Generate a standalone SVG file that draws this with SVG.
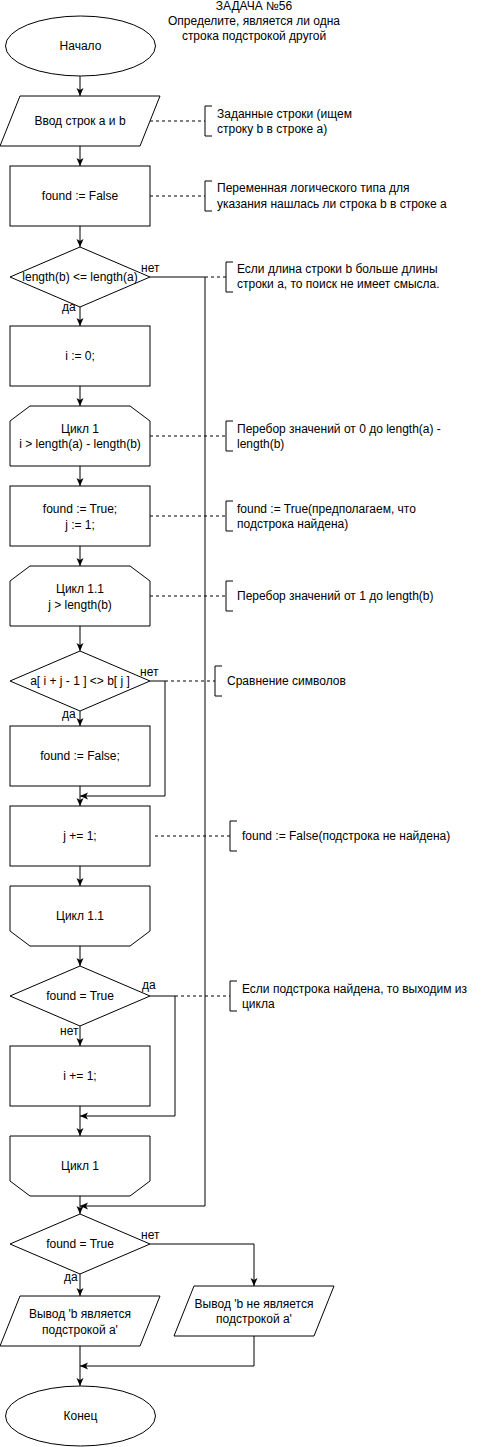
<svg xmlns="http://www.w3.org/2000/svg" width="481" height="1447" viewBox="0 0 481 1447">
<style>
.n{fill:#fff;stroke:#000;stroke-width:1}
.t{font-family:"Liberation Sans",Arial,sans-serif;font-size:12px;fill:#000;text-anchor:middle}
.a{font-family:"Liberation Sans",Arial,sans-serif;font-size:12px;fill:#000}
.c{fill:none;stroke:#000;stroke-width:1}
.d{fill:none;stroke:#000;stroke-width:1;stroke-dasharray:3 3}
.b{fill:none;stroke:#000;stroke-width:1}
</style>
<defs>
<marker id="ar" viewBox="0 0 8 8" refX="8" refY="4" markerWidth="8" markerHeight="8" markerUnits="userSpaceOnUse" orient="auto">
<path d="M0,0.5 L8,4 L0,7.5 L2,4 Z" fill="#000"/>
</marker>
</defs>
<rect width="481" height="1447" fill="#fff"/>
<g id="title">
<text class="t" x="254" y="10">ЗАДАЧА №56</text>
<text class="t" x="254" y="25">Определите, является ли одна</text>
<text class="t" x="254" y="40">строка подстрокой другой</text>
</g>
<g id="connectors">
<path class="c" marker-end="url(#ar)" d="M80,76 V96"/>
<path class="c" marker-end="url(#ar)" d="M80,146 V166"/>
<path class="c" marker-end="url(#ar)" d="M80,226 V247"/>
<path class="c" marker-end="url(#ar)" d="M80,307 V326"/>
<path class="c" marker-end="url(#ar)" d="M80,386 V406"/>
<path class="c" marker-end="url(#ar)" d="M80,466 V486"/>
<path class="c" marker-end="url(#ar)" d="M80,546 V566"/>
<path class="c" marker-end="url(#ar)" d="M80,626 V651"/>
<path class="c" marker-end="url(#ar)" d="M80,711 V726"/>
<path class="c" marker-end="url(#ar)" d="M80,786 V806"/>
<path class="c" marker-end="url(#ar)" d="M150,681 H165 V796 H80"/>
<path class="c" marker-end="url(#ar)" d="M80,866 V886"/>
<path class="c" marker-end="url(#ar)" d="M80,946 V966"/>
<path class="c" marker-end="url(#ar)" d="M80,1026 V1046"/>
<path class="c" marker-end="url(#ar)" d="M150,996 H175 V1116 H80"/>
<path class="c" marker-end="url(#ar)" d="M80,1106 V1136"/>
<path class="c" marker-end="url(#ar)" d="M80,1196 V1214"/>
<path class="c" marker-end="url(#ar)" d="M150,277 H205 V1206 H80"/>
<path class="c" marker-end="url(#ar)" d="M150,1244 H254 V1286"/>
<path class="c" marker-end="url(#ar)" d="M80,1274 V1296"/>
<path class="c" marker-end="url(#ar)" d="M254,1336 V1366 H80"/>
<path class="c" marker-end="url(#ar)" d="M80,1346 V1386"/>
<path class="d" d="M150,121 H205"/>
<path class="d" d="M150,196 H205"/>
<path class="d" d="M205,277 H226"/>
<path class="d" d="M150,436 H226"/>
<path class="d" d="M150,516 H226"/>
<path class="d" d="M150,596 H226"/>
<path class="d" d="M165,681 H215"/>
<path class="d" d="M155,836 H230"/>
<path class="d" d="M175,996 H230"/>
<text class="a" x="141" y="272">нет</text>
<text class="a" x="62" y="311">да</text>
<text class="a" x="140" y="676">нет</text>
<text class="a" x="62" y="718">да</text>
<text class="a" x="142" y="989">да</text>
<text class="a" x="60" y="1035">нет</text>
<text class="a" x="141" y="1239">нет</text>
<text class="a" x="64" y="1281">да</text>
</g>
<g id="start"><ellipse class="n" cx="80.5" cy="46" rx="75" ry="30"/><text class="t" x="80.5" y="50">Начало</text></g>
<g id="input"><polygon class="n" points="20,96 160,96 140,146 0,146"/><text class="t" x="80" y="125">Ввод строк а и b</text></g>
<g id="init-found"><rect class="n" x="10" y="166" width="140" height="60"/><text class="t" x="80" y="200">found := False</text></g>
<g id="check-length"><polygon class="n" points="80,247 150,277 80,307 10,277"/><text class="t" x="80" y="281">length(b) &lt;= length(a)</text></g>
<g id="init-i"><rect class="n" x="10" y="326" width="140" height="60"/><text class="t" x="80" y="360">i := 0;</text></g>
<g id="loop1-start"><polygon class="n" points="30,406 130,406 150,421 150,466 10,466 10,421"/><text class="t" x="80" y="433">Цикл 1</text><text class="t" x="80" y="448">i &gt; length(a) - length(b)</text></g>
<g id="set-true"><rect class="n" x="10" y="486" width="140" height="60"/><text class="t" x="80" y="513">found := True;</text><text class="t" x="80" y="529">j := 1;</text></g>
<g id="loop11-start"><polygon class="n" points="30,566 130,566 150,581 150,626 10,626 10,581"/><text class="t" x="80" y="593">Цикл 1.1</text><text class="t" x="80" y="609">j &gt; length(b)</text></g>
<g id="compare"><polygon class="n" points="80,651 150,681 80,711 10,681"/><text class="t" x="80" y="685">a[ i + j - 1 ] &lt;&gt; b[ j ]</text></g>
<g id="set-false"><rect class="n" x="10" y="726" width="140" height="60"/><text class="t" x="80" y="760">found := False;</text></g>
<g id="inc-j"><rect class="n" x="10" y="806" width="140" height="60"/><text class="t" x="80" y="840">j += 1;</text></g>
<g id="loop11-end"><polygon class="n" points="10,886 150,886 150,931 130,946 30,946 10,931"/><text class="t" x="80" y="920">Цикл 1.1</text></g>
<g id="check-found"><polygon class="n" points="80,966 150,996 80,1026 10,996"/><text class="t" x="80" y="1000">found = True</text></g>
<g id="inc-i"><rect class="n" x="10" y="1046" width="140" height="60"/><text class="t" x="80" y="1080">i += 1;</text></g>
<g id="loop1-end"><polygon class="n" points="10,1136 150,1136 150,1181 130,1196 30,1196 10,1181"/><text class="t" x="80" y="1170">Цикл 1</text></g>
<g id="final-check"><polygon class="n" points="80,1214 150,1244 80,1274 10,1244"/><text class="t" x="80" y="1248">found = True</text></g>
<g id="out-yes"><polygon class="n" points="20,1296 160,1296 140,1346 0,1346"/><text class="t" x="80" y="1318">Вывод 'b является</text><text class="t" x="80" y="1334">подстрокой а'</text></g>
<g id="out-no"><polygon class="n" points="194,1286 334,1286 314,1336 174,1336"/><text class="t" x="254" y="1308">Вывод 'b не является</text><text class="t" x="254" y="1323">подстрокой а'</text></g>
<g id="end"><ellipse class="n" cx="80.5" cy="1416" rx="75" ry="30"/><text class="t" x="80.5" y="1420">Конец</text></g>
<g id="note1"><path class="b" d="M212,106 H205 V136 H212"/><text class="a" x="217" y="118">Заданные строки (ищем</text><text class="a" x="217" y="133">строку b в строке а)</text></g>
<g id="note2"><path class="b" d="M212,181 H205 V211 H212"/><text class="a" x="217" y="192">Переменная логического типа для</text><text class="a" x="217" y="208">указания нашлась ли строка b в строке а</text></g>
<g id="note3"><path class="b" d="M233,262 H226 V292 H233"/><text class="a" x="237" y="273">Если длина строки b больше длины</text><text class="a" x="237" y="288">строки а, то поиск не имеет смысла.</text></g>
<g id="note4"><path class="b" d="M233,421 H226 V451 H233"/><text class="a" x="237" y="433">Перебор значений от 0 до length(a) -</text><text class="a" x="237" y="448">length(b)</text></g>
<g id="note5"><path class="b" d="M233,501 H226 V531 H233"/><text class="a" x="237" y="513">found := True(предполагаем, что</text><text class="a" x="237" y="528">подстрока найдена)</text></g>
<g id="note6"><path class="b" d="M233,581 H226 V611 H233"/><text class="a" x="237" y="600">Перебор значений от 1 до length(b)</text></g>
<g id="note7"><path class="b" d="M222,666 H215 V696 H222"/><text class="a" x="227" y="685">Сравнение символов</text></g>
<g id="note8"><path class="b" d="M237,821 H230 V851 H237"/><text class="a" x="242" y="840">found := False(подстрока не найдена)</text></g>
<g id="note9"><path class="b" d="M237,981 H230 V1011 H237"/><text class="a" x="242" y="993">Если подстрока найдена, то выходим из</text><text class="a" x="242" y="1008">цикла</text></g>
</svg>
